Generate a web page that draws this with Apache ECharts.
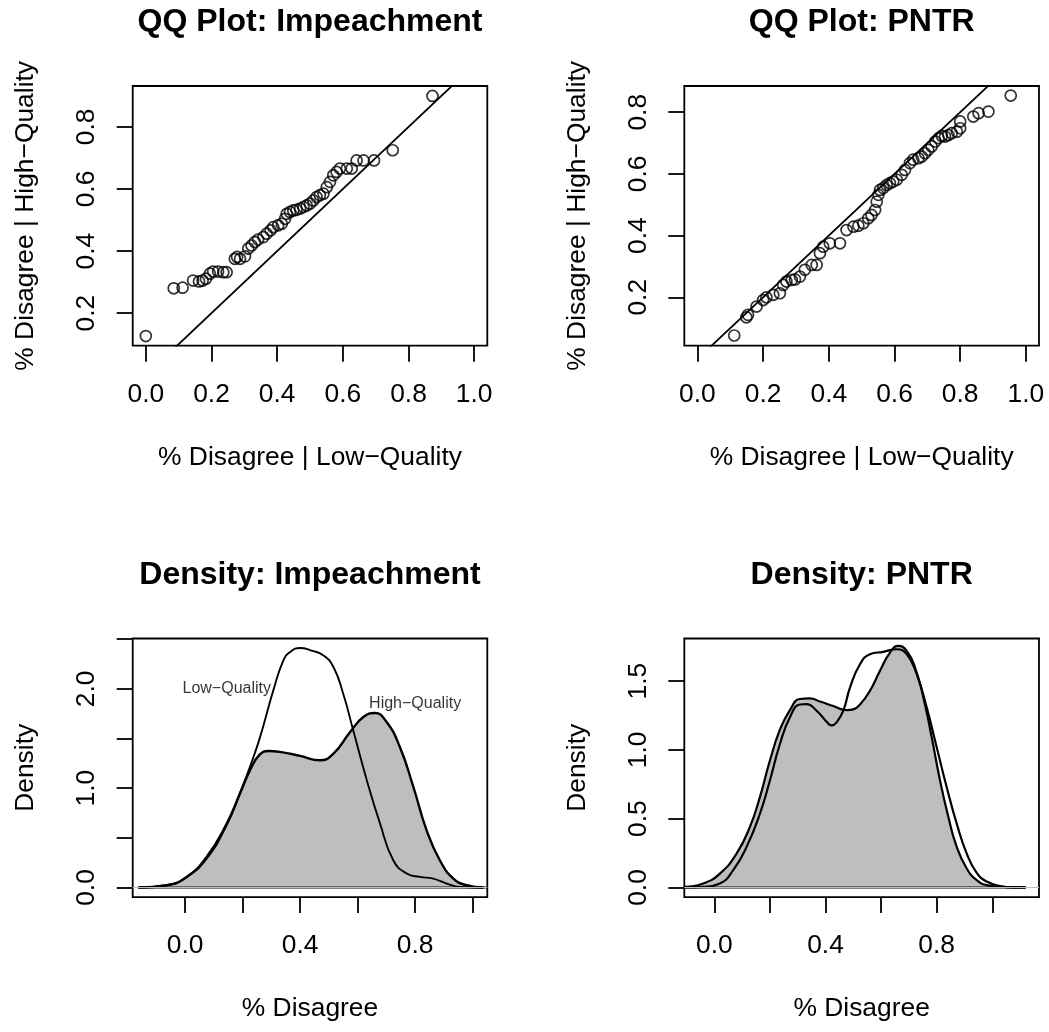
<!DOCTYPE html>
<html><head><meta charset="utf-8">
<script src="https://cdn.jsdelivr.net/npm/echarts@6/dist/echarts.min.js"></script>
<style>html,body{margin:0;padding:0;background:#fff}#c{width:1049px;height:1032px}</style>
</head><body><div id="c"></div>
<script>
// ---- QQ plot: Impeachment (sorted low-quality vs sorted high-quality) ----
const qqImpLow  = [0.000,0.085,0.112,0.144,0.162,0.173,0.183,0.195,0.205,0.220,0.236,0.246,0.271,0.278,0.287,0.302,0.312,0.322,0.332,0.342,0.358,0.368,0.380,0.388,0.403,0.414,0.424,0.429,0.439,0.449,0.459,0.470,0.480,0.490,0.500,0.510,0.520,0.530,0.541,0.551,0.561,0.571,0.581,0.591,0.612,0.627,0.642,0.663,0.695,0.752,0.873];
const qqImpHigh = [0.126,0.280,0.282,0.305,0.302,0.305,0.311,0.327,0.334,0.334,0.332,0.332,0.375,0.381,0.375,0.383,0.408,0.418,0.429,0.437,0.445,0.456,0.467,0.477,0.483,0.488,0.504,0.520,0.526,0.531,0.533,0.537,0.542,0.547,0.553,0.563,0.574,0.580,0.585,0.606,0.623,0.644,0.655,0.666,0.666,0.666,0.692,0.692,0.692,0.725,0.900];
// ---- QQ plot: PNTR ----
const qqPntrLow  = [0.112,0.149,0.154,0.180,0.200,0.210,0.231,0.251,0.261,0.271,0.287,0.297,0.312,0.327,0.348,0.363,0.373,0.383,0.403,0.434,0.454,0.475,0.490,0.505,0.520,0.530,0.541,0.546,0.551,0.556,0.566,0.576,0.586,0.596,0.607,0.622,0.632,0.647,0.657,0.673,0.683,0.693,0.703,0.713,0.724,0.734,0.744,0.754,0.764,0.774,0.790,0.800,0.800,0.840,0.856,0.886,0.954];
const qqPntrHigh = [0.076,0.135,0.143,0.170,0.191,0.200,0.208,0.213,0.240,0.251,0.256,0.258,0.267,0.289,0.305,0.305,0.343,0.364,0.375,0.375,0.418,0.429,0.432,0.440,0.456,0.467,0.483,0.510,0.532,0.548,0.554,0.564,0.570,0.575,0.581,0.597,0.613,0.635,0.646,0.651,0.656,0.667,0.678,0.689,0.705,0.716,0.723,0.721,0.726,0.732,0.737,0.748,0.770,0.786,0.797,0.802,0.854];

// ---- Density: Impeachment ----
const impLowX  = [-0.162,-0.064,0.006,0.075,0.145,0.191,0.238,0.261,0.284,0.307,0.342,0.365,0.400,0.440,0.481,0.516,0.550,0.585,0.632,0.678,0.724,0.771,0.817,0.863,0.910,0.956,1.049];
const impLowY  = [0.000,0.023,0.107,0.290,0.630,0.950,1.314,1.515,1.750,1.985,2.287,2.370,2.411,2.385,2.337,2.220,1.950,1.580,1.080,0.644,0.275,0.141,0.107,0.090,0.040,0.006,0.000];
const impHighX = [-0.162,-0.064,0.006,0.075,0.145,0.191,0.226,0.260,0.290,0.340,0.400,0.469,0.516,0.574,0.620,0.660,0.701,0.747,0.794,0.840,0.886,0.933,0.979,1.037];
const impHighY = [0.000,0.023,0.107,0.308,0.644,0.946,1.180,1.340,1.374,1.360,1.325,1.281,1.348,1.566,1.716,1.757,1.666,1.414,1.012,0.576,0.275,0.090,0.023,0.000];
// ---- Density: PNTR ----
const pntrHighX = [-0.108,-0.040,0.020,0.080,0.128,0.164,0.200,0.236,0.272,0.308,0.344,0.380,0.428,0.476,0.500,0.524,0.560,0.596,0.632,0.662,0.692,0.722,0.752,0.782,0.812,0.842,0.872,0.908,0.944,0.980,1.028,1.076,1.120];
const pntrHighY = [0.005,0.029,0.101,0.246,0.440,0.657,0.923,1.147,1.290,1.370,1.374,1.352,1.319,1.290,1.295,1.330,1.430,1.575,1.708,1.756,1.720,1.599,1.382,1.092,0.778,0.512,0.295,0.138,0.053,0.017,0.005,0.000,0.000];
const pntrLowX  = [-0.108,-0.040,0.020,0.068,0.116,0.164,0.200,0.236,0.272,0.308,0.332,0.368,0.404,0.422,0.440,0.464,0.488,0.524,0.560,0.608,0.656,0.692,0.728,0.764,0.800,0.836,0.872,0.908,0.944,0.980,1.028,1.076,1.120];
const pntrLowY  = [0.000,0.005,0.029,0.126,0.295,0.536,0.778,1.043,1.237,1.330,1.333,1.285,1.205,1.178,1.200,1.285,1.452,1.623,1.696,1.713,1.732,1.696,1.551,1.309,1.019,0.729,0.464,0.246,0.106,0.043,0.010,0.000,0.000];

// ---- tick values / labels ----
const qqXTicks = [0,0.2,0.4,0.6,0.8,1.0];
const qqYTicks = [0.2,0.4,0.6,0.8];
const densXTicks = [0,0.2,0.4,0.6,0.8,1.0];
const densXLabels = [0,0.4,0.8];
const impYTicks = [0,0.5,1.0,1.5,2.0,2.5];
const impYLabels = [0,1.0,2.0];
const pntrYTicks = [0,0.5,1.0,1.5];
const titles = ['QQ Plot: Impeachment','QQ Plot: PNTR','Density: Impeachment','Density: PNTR'];
const annotations = [['Low\u2212Quality',0.145,2.0],['High\u2212Quality',0.80,1.85]];

// ---- layout ----
const FONT = 'Liberation Sans, Arial, Helvetica, sans-serif';
const AX = 26.4;
const grids = [
  {left:132.7, top:86,    width:354.6, height:259.7},
  {left:684.3, top:86,    width:354.7, height:259.7},
  {left:132.7, top:638.5, width:354.6, height:258.6},
  {left:684.3, top:638.5, width:354.7, height:258.6}
];
const xRanges = [[-0.04,1.04],[-0.04,1.04],[-0.182,1.051],[-0.108,1.168]];
const yRanges = [[0.095,0.932],[0.043,0.885],[-0.0964,2.507],[-0.070,1.81]];
const xTickSets = [qqXTicks,qqXTicks,densXTicks,densXTicks];
const xLabelSets = [qqXTicks,qqXTicks,densXLabels,densXLabels];
const yTickSets = [qqYTicks,qqYTicks,impYTicks,pntrYTicks];
const yLabelSets = [qqYTicks,qqYTicks,impYLabels,pntrYTicks];
const xNames = ['% Disagree | Low\u2212Quality','% Disagree | Low\u2212Quality','% Disagree','% Disagree'];
const yNames = ['% Disagree | High\u2212Quality','% Disagree | High\u2212Quality','Density','Density'];

const fmt = v => Number(v).toFixed(1);
const zip = (a,b) => a.map((v,i)=>[v,b[i]]);

const xAxis = grids.map((g,i)=>({
  type:'value', gridIndex:i, min:xRanges[i][0], max:xRanges[i][1],
  axisLine:{show:false, onZero:false}, splitLine:{show:false},
  axisTick:{show:true, inside:false, length:16, customValues:xTickSets[i], lineStyle:{color:'#000', width:1.8}},
  axisLabel:{show:true, customValues:xLabelSets[i], formatter:fmt, margin:36, color:'#000', fontSize:AX, fontFamily:FONT},
  name:xNames[i], nameLocation:'middle', nameGap:99,
  nameTextStyle:{color:'#000', fontSize:AX, fontFamily:FONT}
}));
const yAxis = grids.map((g,i)=>({
  type:'value', gridIndex:i, min:yRanges[i][0], max:yRanges[i][1],
  axisLine:{show:false, onZero:false}, splitLine:{show:false},
  axisTick:{show:true, inside:false, length:16, customValues:yTickSets[i], lineStyle:{color:'#000', width:1.8}},
  axisLabel:{show:true, customValues:yLabelSets[i], formatter:fmt, rotate:90, margin:33, color:'#000', fontSize:AX, fontFamily:FONT},
  name:yNames[i], nameLocation:'middle', nameGap:94,
  nameTextStyle:{color:'#000', fontSize:AX, fontFamily:FONT}
}));

const circleStyle = {color:'rgba(0,0,0,0)', borderColor:'#000', borderWidth:1.7};
const series = [];
// QQ panels
[[qqImpLow,qqImpHigh],[qqPntrLow,qqPntrHigh]].forEach((d,i)=>{
  series.push({type:'scatter', xAxisIndex:i, yAxisIndex:i, data:zip(d[0],d[1]), symbol:'circle', symbolSize:11, itemStyle:circleStyle, silent:true});
  const r = xRanges[i];
  series.push({type:'line', xAxisIndex:i, yAxisIndex:i, data:[[r[0],r[0]],[r[1],r[1]]], symbol:'none', clip:true, lineStyle:{color:'#000', width:1.8}, silent:true});
});
// density panels
[[impHighX,impHighY,impLowX,impLowY,2.4,1.9],[pntrHighX,pntrHighY,pntrLowX,pntrLowY,2.2,2.2]].forEach((d,k)=>{
  const i = k+2;
  series.push({type:'line', xAxisIndex:i, yAxisIndex:i, data:zip(d[0],d[1]), symbol:'none', smooth:0.5, clip:true,
    lineStyle:{color:'#000', width:d[4]}, areaStyle:{color:'#bebebe', opacity:1}, silent:true,
    markLine:{silent:true, symbol:'none', label:{show:false}, lineStyle:{color:'#bebebe', width:1, type:'solid'}, data:[{yAxis:0}]}});
  series.push({type:'line', xAxisIndex:i, yAxisIndex:i, data:[[d[0][0],0],[d[0][d[0].length-1],0]], symbol:'none', clip:true, lineStyle:{color:'#000', width:2}, silent:true});
  series.push({type:'line', xAxisIndex:i, yAxisIndex:i, data:zip(d[2],d[3]), symbol:'none', smooth:0.5, clip:true,
    lineStyle:{color:'#000', width:d[5]}, silent:true});
});
series.push({type:'scatter', xAxisIndex:2, yAxisIndex:2, symbolSize:0, silent:true,
  data:annotations.map(a=>[a[1],a[2],a[0]]),
  label:{show:true, position:'inside', formatter:p=>p.data[2], color:'#000', fontSize:16, fontFamily:FONT}});

const titleCenters = grids.map(g=>g.left+g.width/2);
const titleTops = [6.5,6.5,559,559];
const option = {
  animation:false, backgroundColor:'#fff',
  title: titles.map((t,i)=>({text:t, left:titleCenters[i], top:titleTops[i], textAlign:'center',
    textStyle:{fontSize:32, fontWeight:'bold', color:'#000', fontFamily:FONT}, padding:0})),
  grid: grids.map(g=>Object.assign({show:true, borderColor:'#000', borderWidth:1.8, backgroundColor:'#fff', containLabel:false}, g)),
  xAxis, yAxis, series
};
const chart = echarts.init(document.getElementById('c'), null, {renderer:'canvas'});
chart.setOption(option);
</script></body></html>
